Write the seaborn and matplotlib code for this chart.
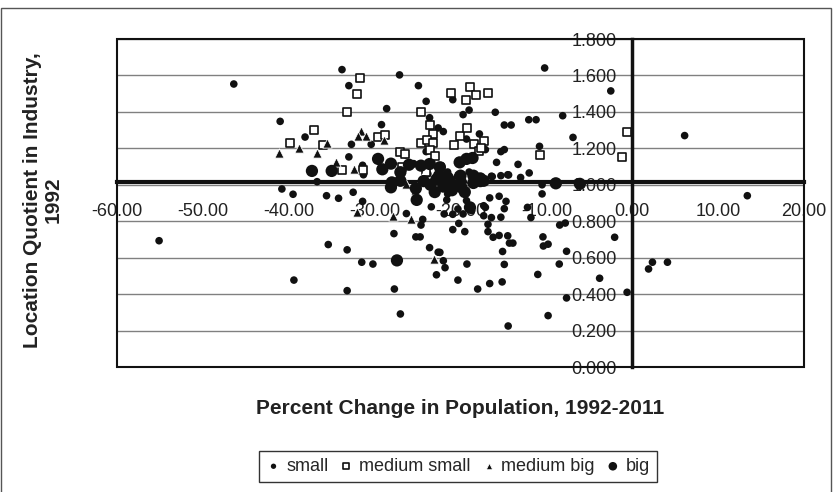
import matplotlib
matplotlib.use("Agg")
import matplotlib.pyplot as plt
from matplotlib.patches import Rectangle
import numpy as np
import pandas as pd
import seaborn as sns

# values
small_x = [-46.4, -33.8, -33.0, -27.1, -24.9, -41.0, -28.6, -24.0, -23.6, -38.1,
           -29.2, -32.7, -30.4, -33.0, -31.4, -31.3, -27.1, -26.4, -25.45, -24.0,
           -36.7, -40.8, -39.5, -35.6, -34.2, -32.5, -19.3, -17.8, -20.9, -19.7,
           -19.0, -22.6, -22.0, -15.95, -14.9, -14.1, -12.05, -11.2, -10.2, -8.1,
           -6.9, -2.5, -10.8, 6.1, -13.3, -12.0, -15.8, -15.3, -14.9, -14.5,
           -15.3, -16.3, -17.6, -17.1, -18.4, -10.5, -10.5, 13.4, -23.35, -25.5,
           -24.7, -22.2, -18.4, -16.4, -14.4, -12.2, -11.8, -16.6, -15.5, -14.7,
           -14.9, -15.3, -17.1, -17.3, -16.4, -16.8, -16.8, -16.2, -15.5, -14.5,
           -14.3, -13.9, -15.1, -14.9, -15.15, -16.6, -18.0, -14.45, -19.25, -20.3,
           -19.5, -20.9, -20.2, -20.9, -21.9, -19.7, -18.7, -19.3, -21.5, -22.4,
           -22.0, -21.8, -22.8, -9.8, -11.0, -10.4, -10.35, -9.8, -8.45, -7.8,
           -8.5, -7.65, -7.65, -3.8, -2.05, -0.6, 1.9, 2.35, 4.1, -23.6,
           -22.6, -27.7, -27.0, -27.75, -25.2, -24.7, -24.6, -24.4, -26.3, -20.3,
           -17.3, -23.4, -21.6, -35.4, -39.4, -55.1, -33.2, -33.2, -31.5, -30.2,
           -31.4, -23.8, -21.5, -19.0, -13.0]
small_y = [1.553, 1.632, 1.544, 1.603, 1.544, 1.348, 1.418, 1.458, 1.368, 1.262,
           1.330, 1.222, 1.222, 1.153, 1.107, 1.055, 1.182, 1.164, 1.116, 1.182,
           1.017, 0.977, 0.948, 0.940, 0.926, 0.959, 1.251, 1.279, 1.467, 1.385,
           1.410, 1.312, 1.292, 1.398, 1.328, 1.328, 1.357, 1.357, 1.641, 1.379,
           1.260, 1.515, 1.211, 1.270, 1.112, 1.065, 1.123, 1.182, 1.193, 1.055,
           1.050, 1.045, 1.200, 1.193, 1.160, 1.000, 0.950, 0.940, 1.123, 1.114,
           1.114, 1.105, 1.156, 1.047, 1.054, 0.876, 0.820, 0.928, 0.937, 0.909,
           0.869, 0.822, 0.876, 0.830, 0.820, 0.783, 0.743, 0.712, 0.722, 0.720,
           0.680, 0.680, 0.634, 0.563, 0.467, 0.458, 0.428, 0.225, 0.565, 0.477,
           0.743, 0.754, 0.788, 0.838, 0.840, 0.840, 0.858, 0.913, 0.950, 0.629,
           0.583, 0.545, 0.506, 0.282, 0.508, 0.714, 0.664, 0.674, 0.779, 0.790,
           0.565, 0.635, 0.379, 0.487, 0.712, 0.410, 0.538, 0.575, 0.575, 0.655,
           0.630, 0.428, 0.291, 0.732, 0.714, 0.714, 0.779, 0.810, 0.842, 0.867,
           0.885, 0.879, 0.917, 0.672, 0.477, 0.693, 0.643, 0.419, 0.575, 0.565,
           0.909, 1.060, 1.070, 1.070, 1.040]

msmall_x = [-31.7, -32.1, -33.2, -24.6, -23.6, -37.1, -39.8, -36.0, -29.6, -28.8,
            -26.8, -33.8, -31.4, -21.1, -19.4, -18.9, -18.2, -16.8, -20.1, -19.3,
            -20.7, -18.4, -17.3, -17.9, -17.6, -23.2, -24.6, -23.9, -23.2, -23.6,
            -23.0, -27.0, -26.5, -10.8, -0.6, -1.2, -24.0]
msmall_y = [1.585, 1.497, 1.398, 1.398, 1.330, 1.300, 1.231, 1.220, 1.264, 1.272,
            1.098, 1.083, 1.083, 1.504, 1.467, 1.535, 1.495, 1.504, 1.270, 1.310,
            1.220, 1.224, 1.242, 1.184, 1.203, 1.280, 1.231, 1.248, 1.230, 1.190,
            1.160, 1.178, 1.170, 1.164, 1.290, 1.154, 1.068]

mbig_x = [-41.1, -38.8, -36.7, -35.5, -31.6, -31.0, -31.9, -28.9, -34.5, -32.4,
          -26.4, -24.5, -20.6, -19.6, -32.1, -27.9, -25.8, -23.1, -25.3]
mbig_y = [1.175, 1.202, 1.176, 1.229, 1.297, 1.270, 1.270, 1.244, 1.123, 1.085,
          1.004, 1.035, 1.056, 1.034, 0.849, 0.830, 0.810, 0.595, 0.970]

big_x = [-37.3, -35.0, -29.6, -29.1, -28.1, -28.1, -27.0, -27.0, -24.6, -22.4,
         -20.1, -19.3, -18.6, -18.5, -17.7, -17.3, -18.5, -17.7, -8.9, -6.1,
         -19.9, -18.9, -27.4, -25.1, -23.6, -26.0, -28.0, -23.5, -22.8, -22.0,
         -21.3, -21.0, -20.3, -24.3, -25.2, -22.5, -23.0, -21.5, -20.0, -19.5]
big_y = [1.076, 1.076, 1.142, 1.085, 1.116, 0.986, 1.069, 1.022, 1.105, 1.096,
         1.123, 1.142, 1.147, 1.010, 1.020, 1.022, 1.050, 1.035, 1.008, 1.005,
         0.986, 0.876, 0.585, 0.917, 1.114, 1.110, 1.013, 1.000, 1.030, 0.990,
         1.020, 0.970, 1.000, 1.020, 0.980, 1.050, 0.960, 1.040, 1.050, 0.960]

x_ticks = [-60, -50, -40, -30, -20, -10, 0, 10, 20]
y_ticks = [0.0, 0.2, 0.4, 0.6, 0.8, 1.0, 1.2, 1.4, 1.6, 1.8]
x_cross = 1.015  # horizontal axis crosses slightly above 1.0

sns.set_style("white")
plt.rcParams['font.family'] = ['Liberation Sans', 'DejaVu Sans']

fig = plt.figure(figsize=(8.35, 4.92), dpi=100)
ax = fig.add_axes([117 / 835, 1 - 367 / 492, 687 / 835, 328 / 492])

ink = '#111111'
sns.scatterplot(x=small_x, y=small_y, ax=ax, marker='o', s=30, color=ink,
                edgecolor='none', label='small', zorder=3)
sns.scatterplot(x=msmall_x, y=msmall_y, ax=ax, marker='s', s=28, facecolor='white',
                edgecolor=ink, linewidth=1.2, label='medium small', zorder=3)
sns.scatterplot(x=mbig_x, y=mbig_y, ax=ax, marker='^', s=44, color=ink,
                edgecolor='white', linewidth=0.6, label='medium big', zorder=3)
sns.scatterplot(x=big_x, y=big_y, ax=ax, marker='o', s=78, color=ink,
                edgecolor='none', label='big', zorder=3)

ax.set_xlim(-60, 20)
ax.set_ylim(0, 1.8)
ax.set_xticks(x_ticks)
ax.set_xticklabels([f'{v:.2f}' for v in x_ticks])
ax.set_yticks(y_ticks)
ax.set_yticklabels([f'{v:.3f}' for v in y_ticks])

ax.yaxis.grid(True, color='#808080', linewidth=1)
ax.xaxis.grid(False)
ax.set_axisbelow(True)

# axes cross inside the plot area
ax.spines['left'].set_position(('data', 0))
ax.spines['bottom'].set_position(('data', x_cross))
ax.spines['left'].set_linewidth(2.5)
ax.spines['bottom'].set_linewidth(3)
ax.spines['top'].set_visible(False)
ax.spines['right'].set_visible(False)
for sp in ['left', 'bottom']:
    ax.spines[sp].set_color(ink)
    ax.spines[sp].set_zorder(2)
ax.add_patch(Rectangle((0, 0), 1, 1, transform=ax.transAxes, fill=False,
                       edgecolor=ink, linewidth=1.5, clip_on=False, zorder=2))

ax.tick_params(axis='x', direction='inout', length=6, width=1.5, pad=12,
               labelsize=13, labelcolor='#222222', color=ink)
ax.tick_params(axis='y', direction='out', length=4, width=1.5, pad=7,
               labelsize=13, labelcolor='#222222', color=ink)
ax.set_xlabel('')
ax.set_ylabel('')

fig.text(43 / 835, 1 - 200 / 492, 'Location Quotient in Industry,\n1992',
         rotation=90, ha='center', va='center', fontsize=15, fontweight='bold',
         color='#222222', linespacing=1.1, multialignment='center')
fig.text(460 / 835, 1 - 408 / 492, 'Percent Change in Population, 1992-2011',
         ha='center', va='center', fontsize=15, fontweight='bold', color='#222222')

handles, labels = ax.get_legend_handles_labels()
if ax.get_legend() is not None:
    ax.get_legend().remove()
leg = fig.legend(handles, labels, loc='center', bbox_to_anchor=(458 / 835, 1 - 466.5 / 492),
                 ncol=4, frameon=True, fancybox=False, edgecolor='#333333', framealpha=1,
                 fontsize=13, handletextpad=0.3, columnspacing=0.6, handlelength=0.8,
                 borderpad=0.4, markerscale=0.7)
leg.get_frame().set_linewidth(1)

# chart area border
fig.add_artist(Rectangle((1 / 835, -0.02), 830 / 835, (492 - 8) / 492 + 0.02,
                         transform=fig.transFigure, fill=False, edgecolor='#555555',
                         linewidth=1))

fig.savefig('out.png', dpi=100)
